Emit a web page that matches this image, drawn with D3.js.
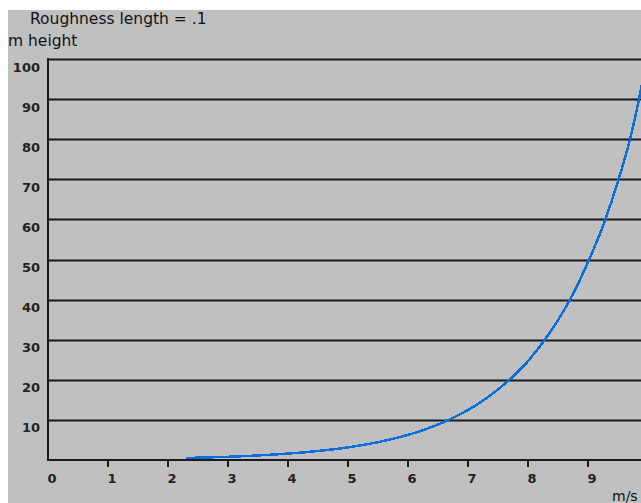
<!DOCTYPE html>
<html>
<head>
<meta charset="utf-8">
<script src="https://cdn.jsdelivr.net/npm/d3@7"></script>
<style>
  html, body { margin: 0; padding: 0; background: #ffffff; }
  svg { display: block; }
</style>
</head>
<body>
<script>
// Data: wind speed (m/s) at each height (m)
const heights = [0.5, 1, 2, 3, 5, 7, 10, 15, 20, 25, 30, 40, 50, 60, 70, 80, 90, 100];
const speeds  = [2.3, 3.32, 4.33, 4.93, 5.67, 6.16, 6.68, 7.27, 7.69, 8.02, 8.28, 8.70, 9.02, 9.29, 9.51, 9.70, 9.85, 9.98];
const xTicks = [0, 1, 2, 3, 4, 5, 6, 7, 8, 9];
const yTicks = [10, 20, 30, 40, 50, 60, 70, 80, 90, 100];
const titleText = "Roughness length = .1";
const yLabelText = "m height";
const xLabelText = "m/s";

const W = 641, H = 503;
const svg = d3.select("body").append("svg").attr("width", W).attr("height", H);

// background: white strip on top/left, gray panel
svg.append("rect").attr("width", W).attr("height", H).attr("fill", "#ffffff");
svg.append("rect").attr("x", 8).attr("y", 10).attr("width", W - 8).attr("height", H - 10).attr("fill", "#c0c0c0");

const x = d3.scaleLinear().domain([0, 10]).range([48, 648]);
const y = d3.scaleLinear().domain([0, 100]).range([460, 59]);

const font = "'DejaVu Sans', Verdana, sans-serif";

// gridlines
svg.append("g").selectAll("line").data(yTicks).join("line")
  .attr("x1", x(0)).attr("x2", W)
  .attr("y1", d => Math.round(y(d)) + 0.5).attr("y2", d => Math.round(y(d)) + 0.5)
  .attr("stroke", "#1a1a1a").attr("stroke-width", 2);

// axes lines
svg.append("line").attr("x1", x(0)).attr("x2", x(0)).attr("y1", y(100) - 1).attr("y2", y(0) + 1)
  .attr("stroke", "#1a1a1a").attr("stroke-width", 2);
svg.append("line").attr("x1", x(0) - 1).attr("x2", W).attr("y1", y(0)).attr("y2", y(0))
  .attr("stroke", "#1a1a1a").attr("stroke-width", 2);

// x ticks
svg.append("g").selectAll("line").data(xTicks.filter(d => d > 0)).join("line")
  .attr("x1", d => x(d)).attr("x2", d => x(d))
  .attr("y1", y(0)).attr("y2", y(0) + 7)
  .attr("stroke", "#1a1a1a").attr("stroke-width", 2);

// x tick labels
svg.append("g").selectAll("text").data(xTicks).join("text")
  .attr("x", d => x(d) + 4).attr("y", 483)
  .attr("text-anchor", "middle")
  .attr("font-family", font).attr("font-weight", "bold").attr("font-size", 13)
  .attr("fill", "#222").text(d => d);

// y tick labels
svg.append("g").selectAll("text").data(yTicks).join("text")
  .attr("x", 40).attr("y", d => y(d) + 12.5)
  .attr("text-anchor", "end")
  .attr("font-family", font).attr("font-weight", "bold").attr("font-size", 13)
  .attr("fill", "#222").text(d => d);

// curve
const pts = heights.map((h, i) => [speeds[i], h]);
svg.append("path").datum(pts)
  .attr("d", d3.line().x(d => x(d[0])).y(d => y(d[1])).curve(d3.curveMonotoneX))
  .attr("fill", "none").attr("stroke", "#0a6ee0").attr("stroke-width", 2.5)
  .attr("shape-rendering", "crispEdges");

// titles
svg.append("text").attr("x", 30).attr("y", 24)
  .attr("font-family", font).attr("font-size", 15.5).attr("fill", "#111").text(titleText);
svg.append("text").attr("x", 8).attr("y", 46)
  .attr("font-family", font).attr("font-size", 15.5).attr("fill", "#111").text(yLabelText);
svg.append("text").attr("x", 612).attr("y", 501)
  .attr("font-family", font).attr("font-size", 14).attr("fill", "#111").text(xLabelText);
</script>
</body>
</html>
